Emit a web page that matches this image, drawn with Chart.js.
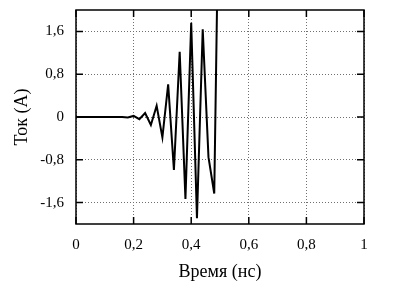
<!DOCTYPE html>
<html>
<head>
<meta charset="utf-8">
<script src="https://cdn.jsdelivr.net/npm/chart.js@4/dist/chart.umd.min.js"></script>
<style>
  html, body { margin: 0; background: #fff; }
  #wrap { width: 400px; height: 287px; }
</style>
</head>
<body>
<div id="wrap"><canvas id="currentChart"></canvas></div>
<script>
// Time axis (ns) and current (A)
const timeNs = [0, 0.02, 0.04, 0.06, 0.08, 0.10, 0.12, 0.14, 0.16, 0.18,
  0.20, 0.22, 0.24, 0.26, 0.28, 0.30, 0.32, 0.34, 0.36, 0.38,
  0.40, 0.42, 0.44, 0.46, 0.48, 0.50];
const currentA = [0, 0, 0, 0, 0, 0, 0, 0, 0, -0.01,
  0.02, -0.04, 0.075, -0.15, 0.21, -0.38, 0.61, -0.99, 1.22, -1.53,
  1.76, -1.89, 1.64, -0.75, -1.43, 5.8];

const xTicks = [0, 0.2, 0.4, 0.6, 0.8, 1];
const yTicks = [-1.6, -0.8, 0, 0.8, 1.6];

const SERIF = "'Liberation Serif', 'DejaVu Serif', serif";
const fmt = v => String(+v.toFixed(1)).replace('.', ',');

// frame + inward tick marks on all four sides
const framePlugin = {
  id: 'frame',
  afterDatasetsDraw(chart) {
    const { ctx, chartArea: a, scales } = chart;
    const len = 7;
    ctx.save();
    ctx.strokeStyle = '#000';
    ctx.lineWidth = 1.5;
    ctx.beginPath();
    xTicks.forEach(v => {
      const x = scales.x.getPixelForValue(v);
      ctx.moveTo(x, a.bottom); ctx.lineTo(x, a.bottom - len);
      ctx.moveTo(x, a.top); ctx.lineTo(x, a.top + len);
    });
    yTicks.forEach(v => {
      const y = scales.y.getPixelForValue(v);
      ctx.moveTo(a.left, y); ctx.lineTo(a.left + len, y);
      ctx.moveTo(a.right, y); ctx.lineTo(a.right - len, y);
    });
    ctx.stroke();
    ctx.strokeRect(a.left, a.top, a.right - a.left, a.bottom - a.top);
    ctx.restore();
  },
};

const gridStyle = {
  color: '#707070',
  lineWidth: 1,
  drawTicks: false,
};

new Chart(document.getElementById('currentChart'), {
  type: 'line',
  data: {
    datasets: [{
      data: timeNs.map((t, i) => ({ x: t, y: currentA[i] })),
      borderColor: '#000',
      borderWidth: 2,
      pointRadius: 0,
      tension: 0,
      fill: false,
    }],
  },
  options: {
    responsive: true,
    maintainAspectRatio: false,
    animation: false,
    layout: { padding: { left: 0, top: 10, right: 36, bottom: 0 } },
    plugins: { legend: { display: false }, tooltip: { enabled: false } },
    scales: {
      x: {
        type: 'linear',
        min: 0,
        max: 1,
        afterBuildTicks: s => { s.ticks = xTicks.map(v => ({ value: v })); },
        afterFit: s => { s.height = 63; s.paddingLeft = 0; s.paddingRight = 0; },
        grid: gridStyle,
        border: { display: false, dash: [1, 2] },
        ticks: {
          color: '#000',
          padding: 12,
          maxRotation: 0,
          font: { family: SERIF, size: 15 },
          callback: v => fmt(v),
        },
        title: {
          display: true,
          text: 'Время (нс)',
          color: '#000',
          font: { family: SERIF, size: 18 },
          padding: { top: 0, bottom: 4 },
        },
      },
      y: {
        type: 'linear',
        min: -2,
        max: 2,
        afterBuildTicks: s => { s.ticks = yTicks.map(v => ({ value: v })); },
        afterFit: s => { s.width = 76; s.paddingTop = 0; s.paddingBottom = 0; },
        grid: gridStyle,
        border: { display: false, dash: [1, 2] },
        ticks: {
          color: '#000',
          padding: 12,
          font: { family: SERIF, size: 15 },
          callback: v => fmt(v),
        },
        title: {
          display: true,
          text: 'Ток (А)',
          color: '#000',
          font: { family: SERIF, size: 18 },
          padding: { top: 11, bottom: 0 },
        },
      },
    },
  },
  plugins: [framePlugin],
});
</script>
</body>
</html>
